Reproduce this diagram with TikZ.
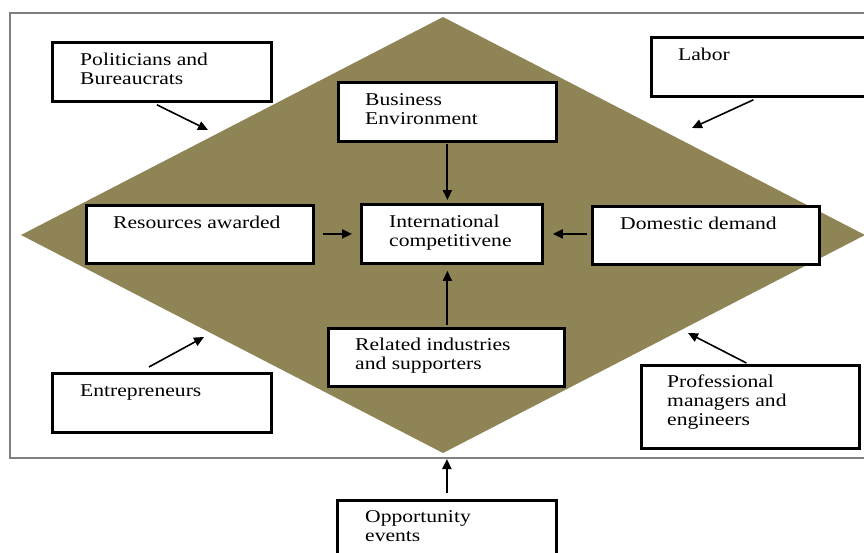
\documentclass[tikz,border=0pt]{standalone}
\usepackage{fontspec}
\setmainfont{Liberation Serif}[FakeStretch=1.2]
\usetikzlibrary{arrows.meta}
\definecolor{diamondfill}{RGB}{143,132,86}
\definecolor{framegray}{RGB}{128,128,128}
\tikzset{
  box/.style={draw=black, fill=white, line width=2.8pt, anchor=north west, inner sep=0pt},
  lbl/.style={anchor=base west, inner sep=0pt, align=left, font=\fontsize{18}{19}\selectfont},
  arrow/.style={line width=1.9pt, -{Stealth[length=10pt,width=9pt,inset=0pt]}},
  slant/.style={line width=1.6pt, -{Stealth[length=10pt,width=9pt,inset=0pt]}},
}
\begin{document}
\begin{tikzpicture}[x=1pt,y=-1pt]
\useasboundingbox (0,0) rectangle (864,552);
\clip (0,0) rectangle (864,552);
% outer frame
\draw[framegray, line width=1.3pt] (870,13) -- (10,13) -- (10,458) -- (870,458);
% diamond
\fill[diamondfill] (21,235) -- (443,17) -- (865,235) -- (443,453) -- cycle;

% boxes
\node[box, minimum width=219pt, minimum height=59pt] (pol) at (51,41) {};
\node[box, minimum width=220pt, minimum height=59pt] (lab) at (650,36) {};
\node[box, minimum width=218pt, minimum height=59pt] (bus) at (337,81) {};
\node[box, minimum width=227pt, minimum height=58pt] (res) at (85,204) {};
\node[box, minimum width=181pt, minimum height=59pt] (int) at (360,203) {};
\node[box, minimum width=227pt, minimum height=58pt] (dom) at (591,205) {};
\node[box, minimum width=236pt, minimum height=58pt] (rel) at (327,327) {};
\node[box, minimum width=219pt, minimum height=59pt] (ent) at (51,372) {};
\node[box, minimum width=218pt, minimum height=83pt] (pro) at (640,364) {};
\node[box, minimum width=219pt, minimum height=70pt] (opp) at (336,499) {};

% labels (anchored on the baseline of their last line)
\node[lbl] (polT) at (80,84) {Politicians and\\Bureaucrats};
\node[lbl] (labT) at (678,60) {Labor};
\node[lbl] (busT) at (365,124) {Business\\Environment};
\node[lbl] (resT) at (113,228) {Resources awarded};
\node[lbl] (intT) at (389,246) {International\\competitivene};
\node[lbl] (domT) at (620,229) {Domestic demand};
\node[lbl] (relT) at (355,369) {Related industries\\and supporters};
\node[lbl] (entT) at (80,396) {Entrepreneurs};
\node[lbl] (proT) at (667,425) {Professional\\managers and\\engineers};
\node[lbl] (oppT) at (365,541) {Opportunity\\events};

% arrow ends on the diamond and the frame
\coordinate (polE) at (208,130);
\coordinate (labE) at (692,128);
\coordinate (entE) at (204,337);
\coordinate (proE) at (688,333);
\coordinate (oppE) at (opp.north |- {(0,459)});

% arrows into the centre
\draw[arrow, shorten <=1pt, shorten >=3pt] (bus.south) -- (bus.south |- int.north);
\draw[arrow, shorten <=8pt, shorten >=8pt] (res.east |- int.west) -- (int.west);
\draw[arrow, shorten <=4pt, shorten >=9pt] (dom.west |- int.east) -- (int.east);
\draw[arrow, shorten <=2pt, shorten >=6pt] (rel.north -| bus.south) -- (bus.south |- int.south);

% arrows onto the diamond
\draw[slant] ([xshift=-5pt,yshift=-2pt]pol.south) -- (polE);
\draw[slant] ([xshift=-8pt,yshift=-2pt]lab.south) -- (labE);
\draw[slant] ([xshift=-13pt,yshift=5pt]ent.north) -- (entE);
\draw[slant] ([xshift=-4pt,yshift=1pt]pro.north) -- (proE);
\draw[arrow] ([yshift=6pt]opp.north) -- (oppE);
\end{tikzpicture}
\end{document}
